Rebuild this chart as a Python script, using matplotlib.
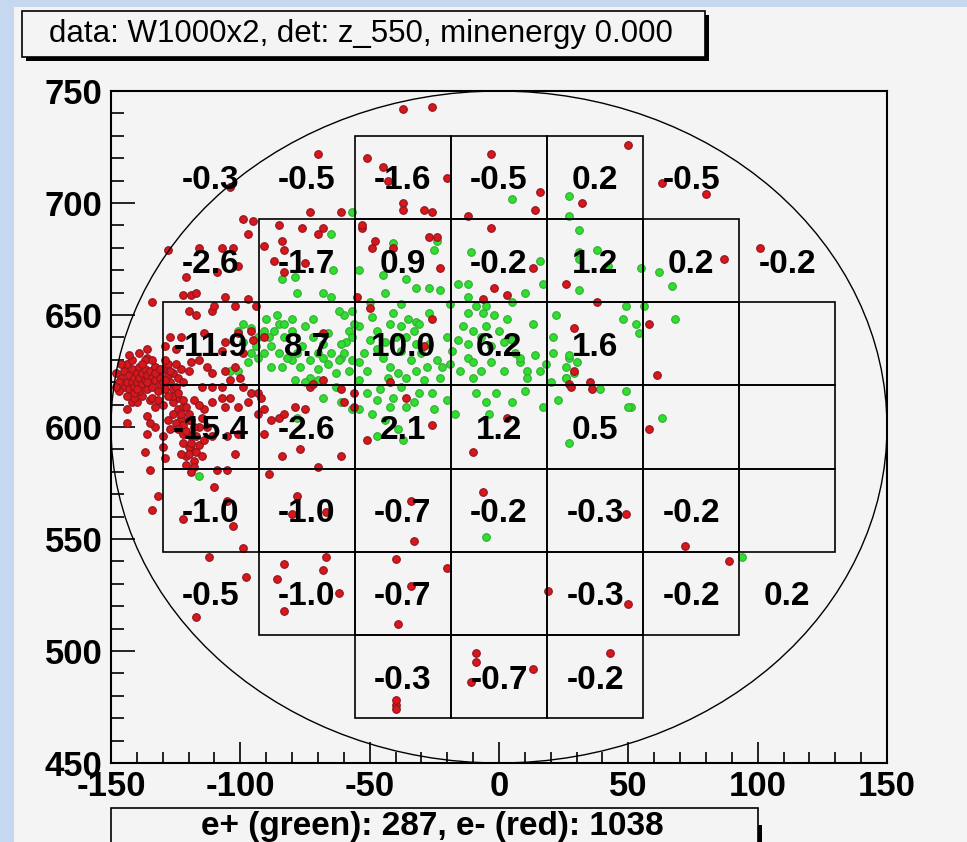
import matplotlib
matplotlib.use('Agg')
import matplotlib.pyplot as plt
from matplotlib.patches import Circle, Rectangle
from matplotlib.ticker import MultipleLocator

plt.rcParams['font.family'] = ['Liberation Sans', 'DejaVu Sans']
plt.rcParams['axes.unicode_minus'] = False

# e- (rouge), positions (x, y)
red_pts = [
    (-26, 743), (-37, 742), (-70, 722), (-51, 720), (-45, 716), (-43, 710), (-37, 700), (-37, 697),
    (-29, 697), (-26, 696), (-20, 711), (-3, 722), (16, 705), (14, 697), (32, 700), (-12, 694),
    (-3, 689), (-53, 689), (-48, 683), (-49, 680), (-41, 680), (-27, 685), (-24, 685), (-23, 671),
    (-2, 662), (3, 659), (13, 671), (26, 664), (38, 656), (-55, 658), (-50, 653),
    (-6, 657), (-26, 648), (-29, 636), (-42, 620), (-36, 613), (-56, 615), (-56, 609), (-51, 594),
    (-26, 601), (3, 604), (-10, 589), (29, 644), (29, 625), (27, 619),
    (-73, 696), (-61, 696), (-99, 693), (-95, 692), (-97, 686), (-85, 690), (-76, 689), (-68, 689),
    (-70, 686), (-91, 681), (-84, 683), (-83, 679), (-87, 674), (-83, 669), (-75, 673), (-53, 690),
    (-128, 679), (-116, 680), (-107, 680), (-103, 680), (-101, 672), (-109, 669), (-121, 667), (-104, 707),
    (-134, 656), (-122, 659), (-119, 659), (-117, 660), (-120, 652), (-117, 650), (-111, 652), (-110, 654),
    (-106, 658), (-102, 654), (-97, 657), (-94, 654), (-127, 640), (-123, 640), (-129, 636), (-125, 635),
    (-136, 635), (-114, 642), (-106, 638), (-107, 634), (-101, 642), (-96, 643), (-95, 639), (-91, 640),
    (-68, 642), (-99, 633), (-136, 631), (-133, 627), (-119, 629), (-116, 630), (-113, 627), (-120, 625),
    (-111, 624), (-106, 625), (-102, 627), (-100, 622), (-104, 621), (-99, 618), (-107, 618), (-111, 618),
    (-115, 618), (-126, 617), (-124, 613), (-126, 611), (-124, 608), (-122, 609), (-123, 604), (-120, 603),
    (-125, 602), (-127, 599), (-130, 596), (-122, 597), (-119, 596), (-116, 600), (-114, 608), (-118, 612),
    (-111, 611), (-106, 609), (-101, 609), (-97, 611), (-107, 613), (-104, 613), (-96, 615), (-93, 615),
    (-92, 613), (-93, 606), (-91, 608), (-88, 603), (-85, 604), (-83, 606), (-79, 609), (-75, 608),
    (-73, 618), (-72, 619), (-68, 621), (-60, 611), (-61, 617), (-91, 597), (-101, 597), (-105, 596),
    (-111, 596), (-119, 590), (-121, 587), (-123, 588), (-120, 591), (-130, 591), (-129, 586), (-136, 597),
    (-133, 600), (-135, 602), (-136, 605), (-144, 608), (-144, 602), (-142, 611), (-140, 611), (-138, 614),
    (-141, 613), (-135, 612), (-133, 609), (-134, 613), (-137, 589), (-135, 581), (-102, 588), (-109, 581),
    (-105, 581), (-89, 579), (-84, 587), (-77, 590), (-70, 582), (-61, 587), (-78, 569), (-110, 573),
    # amas dense a gauche
    (-146, 622), (-145, 618), (-145, 625), (-144, 620), (-143, 623), (-143, 617), (-142, 626), (-142, 620),
    (-141, 622), (-141, 618), (-140, 624), (-140, 620), (-139, 627), (-139, 616), (-139, 622), (-138, 619),
    (-138, 624), (-137, 621), (-137, 626), (-136, 617), (-136, 623), (-135, 620), (-135, 625), (-134, 618),
    (-134, 622), (-133, 627), (-133, 621), (-132, 616), (-132, 624), (-131, 619), (-131, 622), (-130, 626),
    (-130, 620), (-129, 617), (-128, 623), (-128, 628), (-127, 620), (-126, 624), (-125, 618), (-124, 622),
    (-123, 626), (-147, 620), (-148, 624), (-144, 628), (-137, 630), (-141, 615), (-134, 630), (-129, 630),
    (-126, 614), (-122, 620),
    (-147, 616), (-146, 628), (-144, 614), (-142, 630), (-140, 617), (-138, 628), (-136, 620), (-133, 624),
    (-131, 626), (-129, 621), (-127, 625), (-125, 628), (-143, 632), (-148, 618), (-139, 633), (-132, 612),
    (-128, 614), (-130, 610), (-126, 606), (-128, 603),
    (-124, 615), (-122, 612), (-121, 609), (-123, 606), (-120, 606), (-119, 603), (-122, 601), (-118, 600),
    (-121, 598), (-117, 596), (-119, 593), (-116, 592), (-120, 588), (-118, 585), (-117, 589), (-122, 593),
    (-115, 604), (-116, 610), (-124, 599), (-118, 582), (-114, 594), (-113, 600), (-119, 580), (-121, 583),
    (-115, 587),
    # droite
    (80, 704), (63, 709), (50, 726), (101, 680), (87, 675), (58, 646), (28, 618), (35, 620),
    (36, 617), (61, 623), (58, 599),
    # bas
    (-132, 569), (-134, 563), (-122, 559), (-105, 567), (-103, 556), (-99, 546), (-112, 542), (-80, 561),
    (-67, 562), (-34, 567), (-33, 549), (-6, 571), (49, 561), (72, 547), (89, 540), (-83, 539),
    (-67, 542), (-68, 536), (-86, 532), (-98, 533), (-83, 518), (-62, 526), (-40, 541), (-20, 537),
    (-34, 529), (-39, 512), (-117, 515), (19, 527), (50, 521), (-9, 499), (-9, 495), (-11, 486),
    (13, 492), (43, 499), (-40, 476), (-40, 474), (-40, 478),
]

# e+ (vert)
green_pts = [
    (5, 702), (27, 703), (31, 688), (38, 679), (31, 675), (27, 694), (55, 671), (-11, 678),
    (-16, 664), (-12, 664), (-5, 654), (-6, 651), (-2, 650), (-25, 679), (-24, 683), (-41, 682),
    (-45, 668), (-36, 666), (-32, 662), (-27, 662), (-23, 661), (-54, 670), (-41, 651), (-32, 647),
    (-27, 651), (17, 664), (31, 661), (49, 654), (53, 646),
    (-60, 650), (-58, 643), (-59, 638), (-61, 631), (-54, 645), (-54, 629), (-51, 625), (-54, 621),
    (-49, 649), (-47, 643), (-50, 639), (-42, 646), (-38, 645), (-35, 648), (-33, 643), (-31, 646),
    (-36, 640), (-32, 637), (-45, 631), (-42, 627), (-43, 622), (-39, 624), (-36, 622), (-32, 625),
    (-28, 627), (-24, 630), (-22, 627), (-23, 622), (-29, 621), (-38, 618), (-41, 613), (-42, 609),
    (-36, 609), (-47, 612), (-51, 615), (-54, 608), (-49, 606), (-31, 615), (-26, 615), (-20, 612),
    (-9, 615), (-5, 611), (-1, 615), (5, 611), (-12, 651), (-9, 654), (3, 648), (-14, 645),
    (-10, 643), (0, 643), (-16, 639), (-12, 637), (-7, 640), (-12, 631), (-10, 629), (-7, 625),
    (-10, 622), (-15, 625), (-3, 629), (2, 625), (8, 629), (11, 625), (11, 622), (8, 631),
    (5, 639), (-3, 636), (16, 625), (13, 646), (21, 640), (27, 631), (26, 622), (29, 624),
    (17, 609), (27, 593), (16, 674), (-39, 599),
    (-116, 578), (-101, 643), (-99, 646), (-96, 644), (-93, 640), (-91, 643), (-89, 640), (-87, 643),
    (-85, 646), (-83, 646), (-80, 643), (-83, 640), (-88, 636), (-85, 633), (-91, 633), (-93, 631),
    (-96, 633), (-97, 629), (-101, 625), (-104, 625), (-88, 627), (-84, 627), (-80, 630), (-78, 633),
    (-77, 627), (-73, 630), (-70, 633), (-68, 631), (-65, 633), (-62, 630), (-60, 633), (-57, 630),
    (-68, 637), (-61, 637), (-57, 640), (-56, 646), (-57, 652), (-62, 652), (-65, 658), (-68, 660),
    (-78, 660), (-84, 666), (-79, 667), (-73, 622), (-70, 621), (-75, 620), (-79, 621), (-61, 611),
    (-57, 608), (-68, 613), (-78, 604),
    (-57, 696), (-65, 686), (-64, 670),
    (31, 678), (42, 672), (62, 669), (67, 663), (48, 648), (54, 642), (56, 654), (68, 648),
    (27, 632), (30, 629), (26, 627), (26, 622), (39, 617), (49, 616), (51, 609), (50, 609),
    (63, 604), (-5, 551), (94, 542),
    # nuage dense (estime)
    (-90, 648), (-86, 650), (-80, 648), (-75, 645), (-72, 640), (-76, 636), (-82, 631), (-94, 636),
    (-99, 638), (-70, 626), (-66, 628), (-63, 624), (-58, 625), (-52, 633), (-47, 635), (-44, 638),
    (-40, 640), (-38, 634), (-34, 630), (-30, 633), (-27, 637), (-20, 640), (-18, 634), (-19, 628),
    (-5, 645), (2, 638), (6, 633), (14, 632), (18, 628), (21, 633), (-46, 617), (-33, 611),
    (-25, 608), (-44, 603), (-37, 594), (-47, 596), (-17, 606), (-4, 606), (10, 616), (20, 620),
    (23, 612), (-63, 618), (-66, 642), (-72, 648), (-50, 656), (-44, 660), (-38, 655), (-19, 655),
    (-12, 658), (5, 656), (10, 660), (22, 650),
]

# valeurs des cellules (ligne du haut vers le bas, colonnes de gauche a droite)
cell_rows = [
    [-0.3, -0.5, -1.6, -0.5, 0.2, -0.5, None],
    [-2.6, -1.7, 0.9, -0.2, 1.2, 0.2, -0.2],
    [-11.9, 8.7, 10.0, 6.2, 1.6, None, None],
    [-15.4, -2.6, 2.1, 1.2, 0.5, None, None],
    [-1.0, -1.0, -0.7, -0.2, -0.3, -0.2, None],
    [-0.5, -1.0, -0.7, None, -0.3, -0.2, 0.2],
    [None, None, -0.3, -0.7, -0.2, None, None],
]
# cellules encadrees
box_rows = [
    [0, 0, 1, 1, 1, 0, 0],
    [0, 1, 1, 1, 1, 1, 0],
    [1, 1, 1, 1, 1, 1, 1],
    [1, 1, 1, 1, 1, 1, 1],
    [1, 1, 1, 1, 1, 1, 1],
    [0, 1, 1, 1, 1, 1, 0],
    [0, 0, 1, 1, 1, 0, 0],
]

titre = 'data: W1000x2, det: z_550, minenergy 0.000'
legende = 'e+ (green): 287, e- (red): 1038'

pas = 260 / 7
centre_x, centre_y, rayon = 0, 600, 150

W, H = 967, 842
bg = '#f4f4f4'

fig = plt.figure(figsize=(W / 100, H / 100), dpi=100, facecolor='#c6d8f0')
fig.add_artist(Rectangle((14 / W, 0), 1, 835 / H, transform=fig.transFigure,
                         facecolor=bg, edgecolor='none', zorder=-10))

ax = fig.add_axes([111 / W, 79 / H, 776 / W, 672 / H])
ax.set_facecolor(bg)
ax.set_xlim(-150, 150)
ax.set_ylim(450, 750)

gx, gy = zip(*green_pts)
rx, ry = zip(*red_pts)
ax.scatter(gx, gy, s=30, marker='o', color='#2ee02e', edgecolors='#36a836', linewidths=0.8, zorder=2)
ax.scatter(rx, ry, s=30, marker='o', color='#d81818', edgecolors='#8c1424', linewidths=0.8, zorder=2.5)

ax.add_patch(Circle((centre_x, centre_y), rayon, fill=False, edgecolor='black', linewidth=1.0, zorder=3))

for r, (vals, boxes) in enumerate(zip(cell_rows, box_rows)):
    j = 3 - r
    for c, (v, b) in enumerate(zip(vals, boxes)):
        i = c - 3
        cx = centre_x + i * pas
        cy = centre_y + j * pas
        if b:
            ax.add_patch(Rectangle((cx - pas / 2, cy - pas / 2), pas, pas, fill=False,
                                   edgecolor='black', linewidth=1.2, zorder=3))
        if v is not None:
            ax.text(cx, cy, f'{v:.1f}', ha='center', va='center_baseline', fontsize=24,
                    fontweight='bold', zorder=4)

ax.xaxis.set_major_locator(MultipleLocator(50))
ax.xaxis.set_minor_locator(MultipleLocator(10))
ax.yaxis.set_major_locator(MultipleLocator(50))
ax.yaxis.set_minor_locator(MultipleLocator(10))
ax.tick_params(axis='x', which='major', direction='in', length=15, width=1.2, pad=5, labelsize=25)
ax.tick_params(axis='x', which='minor', direction='in', length=8, width=1.2)
ax.tick_params(axis='y', which='major', direction='in', length=17, width=1.2, pad=6, labelsize=25)
ax.tick_params(axis='y', which='minor', direction='in', length=9, width=1.2)
for lab in ax.get_xticklabels() + ax.get_yticklabels():
    lab.set_fontweight('bold')
for sp in ax.spines.values():
    sp.set_linewidth(1.5)

# boite du titre
fig.add_artist(Rectangle((26 / W, 1 - 61 / H), 683 / W, 46 / H, transform=fig.transFigure,
                         facecolor='black', edgecolor='none', zorder=5))
fig.add_artist(Rectangle((22 / W, 1 - 57 / H), 683 / W, 46 / H, transform=fig.transFigure,
                         facecolor=bg, edgecolor='black', linewidth=1.2, zorder=6))
fig.text(361 / W, 1 - 34 / H, titre, ha='center', va='center', fontsize=22.5, zorder=7)

# boite de la legende
fig.add_artist(Rectangle((115 / W, -0.02), 647 / W, 34 / H, transform=fig.transFigure,
                         facecolor='black', edgecolor='none', zorder=5))
fig.add_artist(Rectangle((111 / W, -0.005), 647 / W, 38 / H, transform=fig.transFigure,
                         facecolor=bg, edgecolor='black', linewidth=1.2, zorder=6))
fig.text(432 / W, 1 - 826 / H, legende, ha='center', va='center', fontsize=24,
         fontweight='bold', zorder=7)

fig.savefig('out.png', dpi=100, facecolor=fig.get_facecolor())
